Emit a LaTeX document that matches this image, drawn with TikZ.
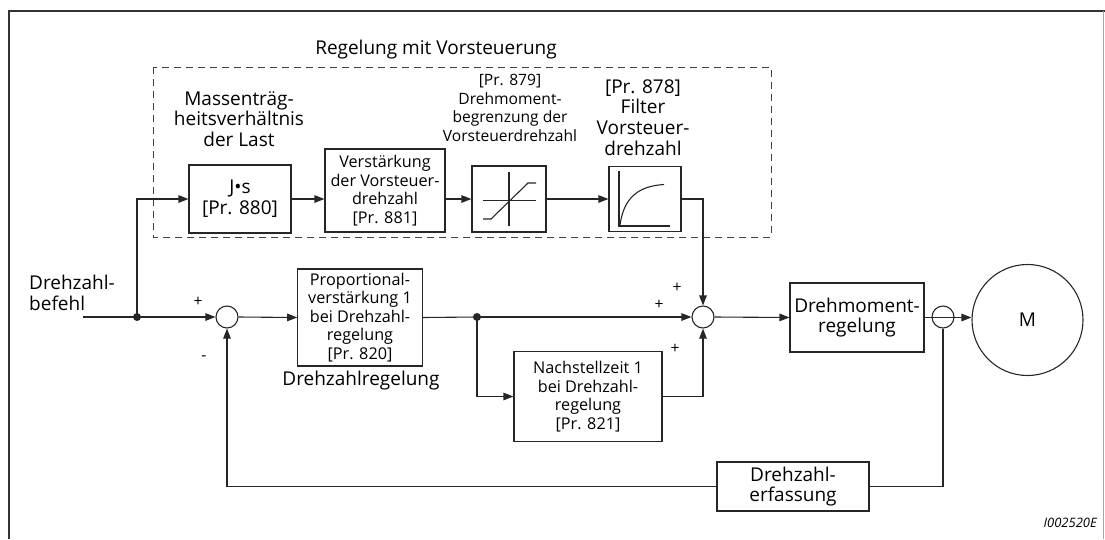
\documentclass[tikz,border=0pt]{standalone}
\usepackage{fontspec}
\setmainfont{Open Sans}
\usetikzlibrary{arrows.meta}
\newcommand\fBig{\fontsize{19}{20.8}\selectfont}
\newcommand\fSml{\fontsize{15.6}{18.4}\selectfont}
\newcommand\fBox{\fontsize{16.2}{18.6}\selectfont}
\begin{document}
\begin{tikzpicture}[x=1pt,y=-1pt,
  ln/.style={line width=1.1pt, draw=black!85},
  arr/.style={ln, -{Triangle[length=10pt,width=7.5pt]}},
  blk/.style={draw=black!85, line width=1.1pt, inner sep=0pt, align=center, font=\fBox},
  bigtxt/.style={font=\fBig, align=center, inner sep=0pt},
  smltxt/.style={font=\fSml, align=center, inner sep=0pt},
  sumc/.style={circle, draw=black!85, line width=1.1pt, minimum size=22pt, inner sep=0pt},
  jdot/.style={circle, fill=black!85, minimum size=8pt, inner sep=0pt},
  frame/.style={line width=2pt, draw=black!80},
  dashbox/.style={line width=1pt, draw=black!75, dash pattern=on 7pt off 5pt}
]
\useasboundingbox (0,0) rectangle (1105,539);
% outer frame
\draw[frame] (8.7,539) -- (8.7,10.7) -- (1105,10.7);
\draw[line width=0.8pt, draw=black!35] (1103.5,10.7) -- (1103.5,539);

% feed-forward group
\draw[dashbox] (153,67) rectangle (771,237);
\node[bigtxt] (title) at (436,50) {Regelung mit Vorsteuerung};

\node[blk, font=\fBig, minimum width=102pt, minimum height=68pt] (js) at (240,199) {J\textbullet s\\{}[Pr. 880]};
\node[bigtxt] (jslab) at (239,119) {Massenträg-\\heitsverhältnis\\der Last};

\node[blk, minimum width=120pt, minimum height=83pt] (verst) at (385,190.5) {Verstärkung\\der Vorsteuer-\\drehzahl\\{}[Pr. 881]};

\node[blk, minimum width=74pt, minimum height=66pt] (lim) at (509,199) {};
\node[smltxt] (limlab) at (510,108) {{}[Pr. 879]\\Drehmoment-\\begrenzung der\\Vorsteuerdrehzahl};
\draw[ln] (509,172) -- (509,226);
\draw[ln] (483,200.5) -- (536,200.5);
\draw[ln] (483,219) -- (491,219) -- (528,183) -- (536,183);

\node[blk, minimum width=72pt, minimum height=65pt] (filt) at (645,199) {};
\node[bigtxt] (filtlab) at (643,117.5) {{}[Pr. 878]\\Filter\\Vorsteuer-\\drehzahl};
\draw[ln] (619,171) -- (619,226) -- (670,226);
\draw[ln] (620,225) .. controls (624,196) and (640,186) .. (664,184.5);

% main loop
\coordinate (in) at (83,317);
\node[bigtxt, anchor=west, align=left] (inlab) at (29,293) {Drehzahl-\\befehl};
\node[jdot] (d1) at (137,317) {};
\node[sumc] (s1) at (227,317) {};
\node[smltxt] (p1) at (198,302) {+};
\node[smltxt] (m1) at (204,358) {-};

\node[blk, minimum width=124.5pt, minimum height=97pt] (prop) at (360,317.5) {Proportional-\\verstärkung 1\\bei Drehzahl-\\regelung\\{}[Pr. 820]};
\node[bigtxt] (proplab) at (361,381) {Drehzahlregelung};

\node[jdot] (d2) at (477,317) {};
\node[blk, minimum width=148pt, minimum height=90pt] (nach) at (588,396.5) {Nachstellzeit 1\\bei Drehzahl-\\regelung\\{}[Pr. 821]};

\node[sumc] (s2) at (703,317) {};
\node[smltxt] (p2) at (677,288) {+};
\node[smltxt] (p3) at (659,305) {+};
\node[smltxt] (p4) at (675,349) {+};

\node[blk, font=\fBig, minimum width=134pt, minimum height=69pt] (dm) at (857,317.5) {Drehmoment-\\regelung};
\node[sumc] (sc) at (943,317) {};
\node[circle, draw=black!85, line width=1.1pt, minimum size=111pt, inner sep=0pt, font=\fBig] (mot) at (1027.5,320) {M};

\node[blk, font=\fBig, minimum width=152pt, minimum height=49pt] (erf) at (793,486.5) {Drehzahl-\\erfassung};

\node[anchor=east, inner sep=0pt, font=\itshape\fontsize{13}{13}\selectfont] (code) at (1097,523) {I002520E};

% connectors: feed-forward
\draw[arr] (d1.center) -- (d1.center |- js.west) -- (js.west);
\draw[arr] (js.east) -- (verst.west |- js.east);
\draw[arr] (verst.east |- lim.west) -- (lim.west);
\draw[arr] (lim.east) -- (filt.west);
\draw[arr] (filt.east) -| (s2.north);

% connectors: main
\draw[ln] (in) -- (d1.center);
\draw[arr] (d1.center) -- (s1.west);
\draw[arr] (s1.east) -- (prop.west);
\draw[ln] (prop.east) -- (d2.center);
\draw[arr] (d2.center) -- (s2.west);
\draw[arr] (d2.center) |- (nach.west);
\draw[arr] (nach.east) -| (s2.south);
\draw[arr] (s2.east) -- (dm.west);
\draw[arr] (dm.east) -- (dm.east -| mot.west);
\draw[ln] (sc.south) |- (erf.east);
\draw[arr] (erf.west) -| (s1.south);
\end{tikzpicture}
\end{document}
